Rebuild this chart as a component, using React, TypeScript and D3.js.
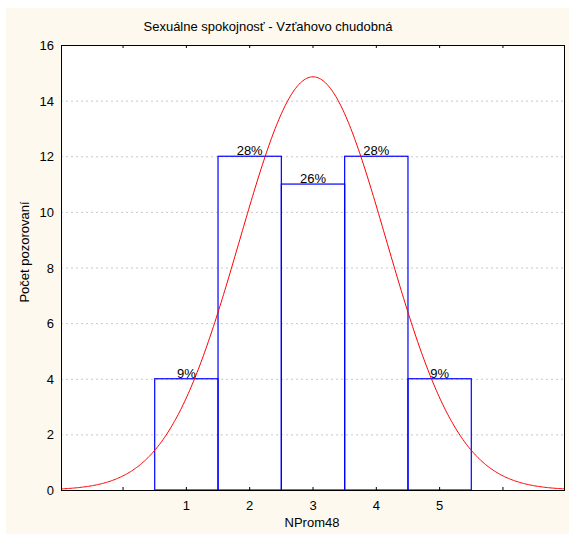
import React from "react";
import * as d3 from "d3";

const categories = [1, 2, 3, 4, 5];
const counts = [4, 12, 11, 12, 4];
const percentLabels = ["9%", "28%", "26%", "28%", "9%"];
const yTicks = [0, 2, 4, 6, 8, 10, 12, 14, 16];
const xTicks = [0, 1, 2, 3, 4, 5, 6];
const xTickLabels = [1, 2, 3, 4, 5];
const title = "Sexuálne spokojnosť - Vzťahovo chudobná";
const xTitle = "NProm48";
const yTitle = "Počet pozorovaní";

const W = 569;
const H = 534;
const left = 61;
const right = 565;
const top = 45;
const bottom = 490;

export default function App() {
  const x = d3.scaleLinear().domain([-0.98, 6.98]).range([left, right]);
  const y = d3.scaleLinear().domain([0, 16]).range([bottom, top]);

  const n = d3.sum(counts);
  const mean = d3.sum(categories.map((c, i) => c * counts[i])) / n;
  const variance =
    d3.sum(categories.map((c, i) => counts[i] * (c - mean) ** 2)) / (n - 1);
  const sd = Math.sqrt(variance);
  const dom = x.domain();
  const pts: [number, number][] = d3.range(0, 401).map((k) => {
    const v = dom[0] + ((dom[1] - dom[0]) * k) / 400;
    const d = (n / (sd * Math.sqrt(2 * Math.PI))) * Math.exp(-((v - mean) ** 2) / (2 * sd * sd));
    return [v, d];
  });
  const line = d3
    .line<[number, number]>()
    .x((d) => x(d[0]))
    .y((d) => y(d[1]));

  const font = "Arial, 'Liberation Sans', sans-serif";

  return (
    <svg
      width={W}
      height={H}
      style={{ position: "absolute", left: 0, top: 0 }}
      fontFamily={font}
    >
      <rect x={0} y={0} width={W} height={H} fill="#ffffff" />
      <rect x={6} y={8} width={W - 6} height={H - 8} fill="#fdf9ef" />
      <rect x={left} y={top} width={right - left} height={bottom - top} fill="#ffffff" />
      {yTicks.slice(1, -1).map((t) => (
        <line
          key={"g" + t}
          x1={left}
          x2={right}
          y1={y(t) + 0.5}
          y2={y(t) + 0.5}
          stroke="#c8c8c8"
          strokeWidth={1}
          strokeDasharray="2,3"
        />
      ))}
      {counts.map((c, i) => (
        <rect
          key={"b" + i}
          x={x(categories[i] - 0.5)}
          y={y(c)}
          width={x(categories[i] + 0.5) - x(categories[i] - 0.5)}
          height={y(0) - y(c)}
          fill="none"
          stroke="#0000ff"
          strokeWidth={1.2}
        />
      ))}
      <path d={line(pts) || ""} fill="none" stroke="#ff0000" strokeWidth={1} />
      {counts.map((c, i) => (
        <text
          key={"p" + i}
          x={x(categories[i])}
          y={y(c) - 1}
          textAnchor="middle"
          fontSize={13}
          fill="#000"
        >
          {percentLabels[i]}
        </text>
      ))}
      <rect
        x={left + 0.5}
        y={top + 0.5}
        width={right - left - 1}
        height={bottom - top}
        fill="none"
        stroke="#000"
        strokeWidth={1}
      />
      {xTicks.map((t) => (
        <g key={"xt" + t}>
          <line x1={x(t)} x2={x(t)} y1={top} y2={top + 3} stroke="#000" />
          <line x1={x(t)} x2={x(t)} y1={bottom} y2={bottom - 3} stroke="#000" />
        </g>
      ))}
      {xTickLabels.map((t) => (
        <text key={"xl" + t} x={x(t)} y={bottom + 20} textAnchor="middle" fontSize={13}>
          {t}
        </text>
      ))}
      {yTicks.map((t) => (
        <text key={"yl" + t} x={left - 7} y={y(t) + 5} textAnchor="end" fontSize={13}>
          {t}
        </text>
      ))}
      <text x={312} y={527} textAnchor="middle" fontSize={13}>
        {xTitle}
      </text>
      <text x={268} y={31} textAnchor="middle" fontSize={13}>
        {title}
      </text>
      <text
        transform={`translate(29, 252) rotate(-90)`}
        textAnchor="middle"
        fontSize={13}
      >
        {yTitle}
      </text>
    </svg>
  );
}
